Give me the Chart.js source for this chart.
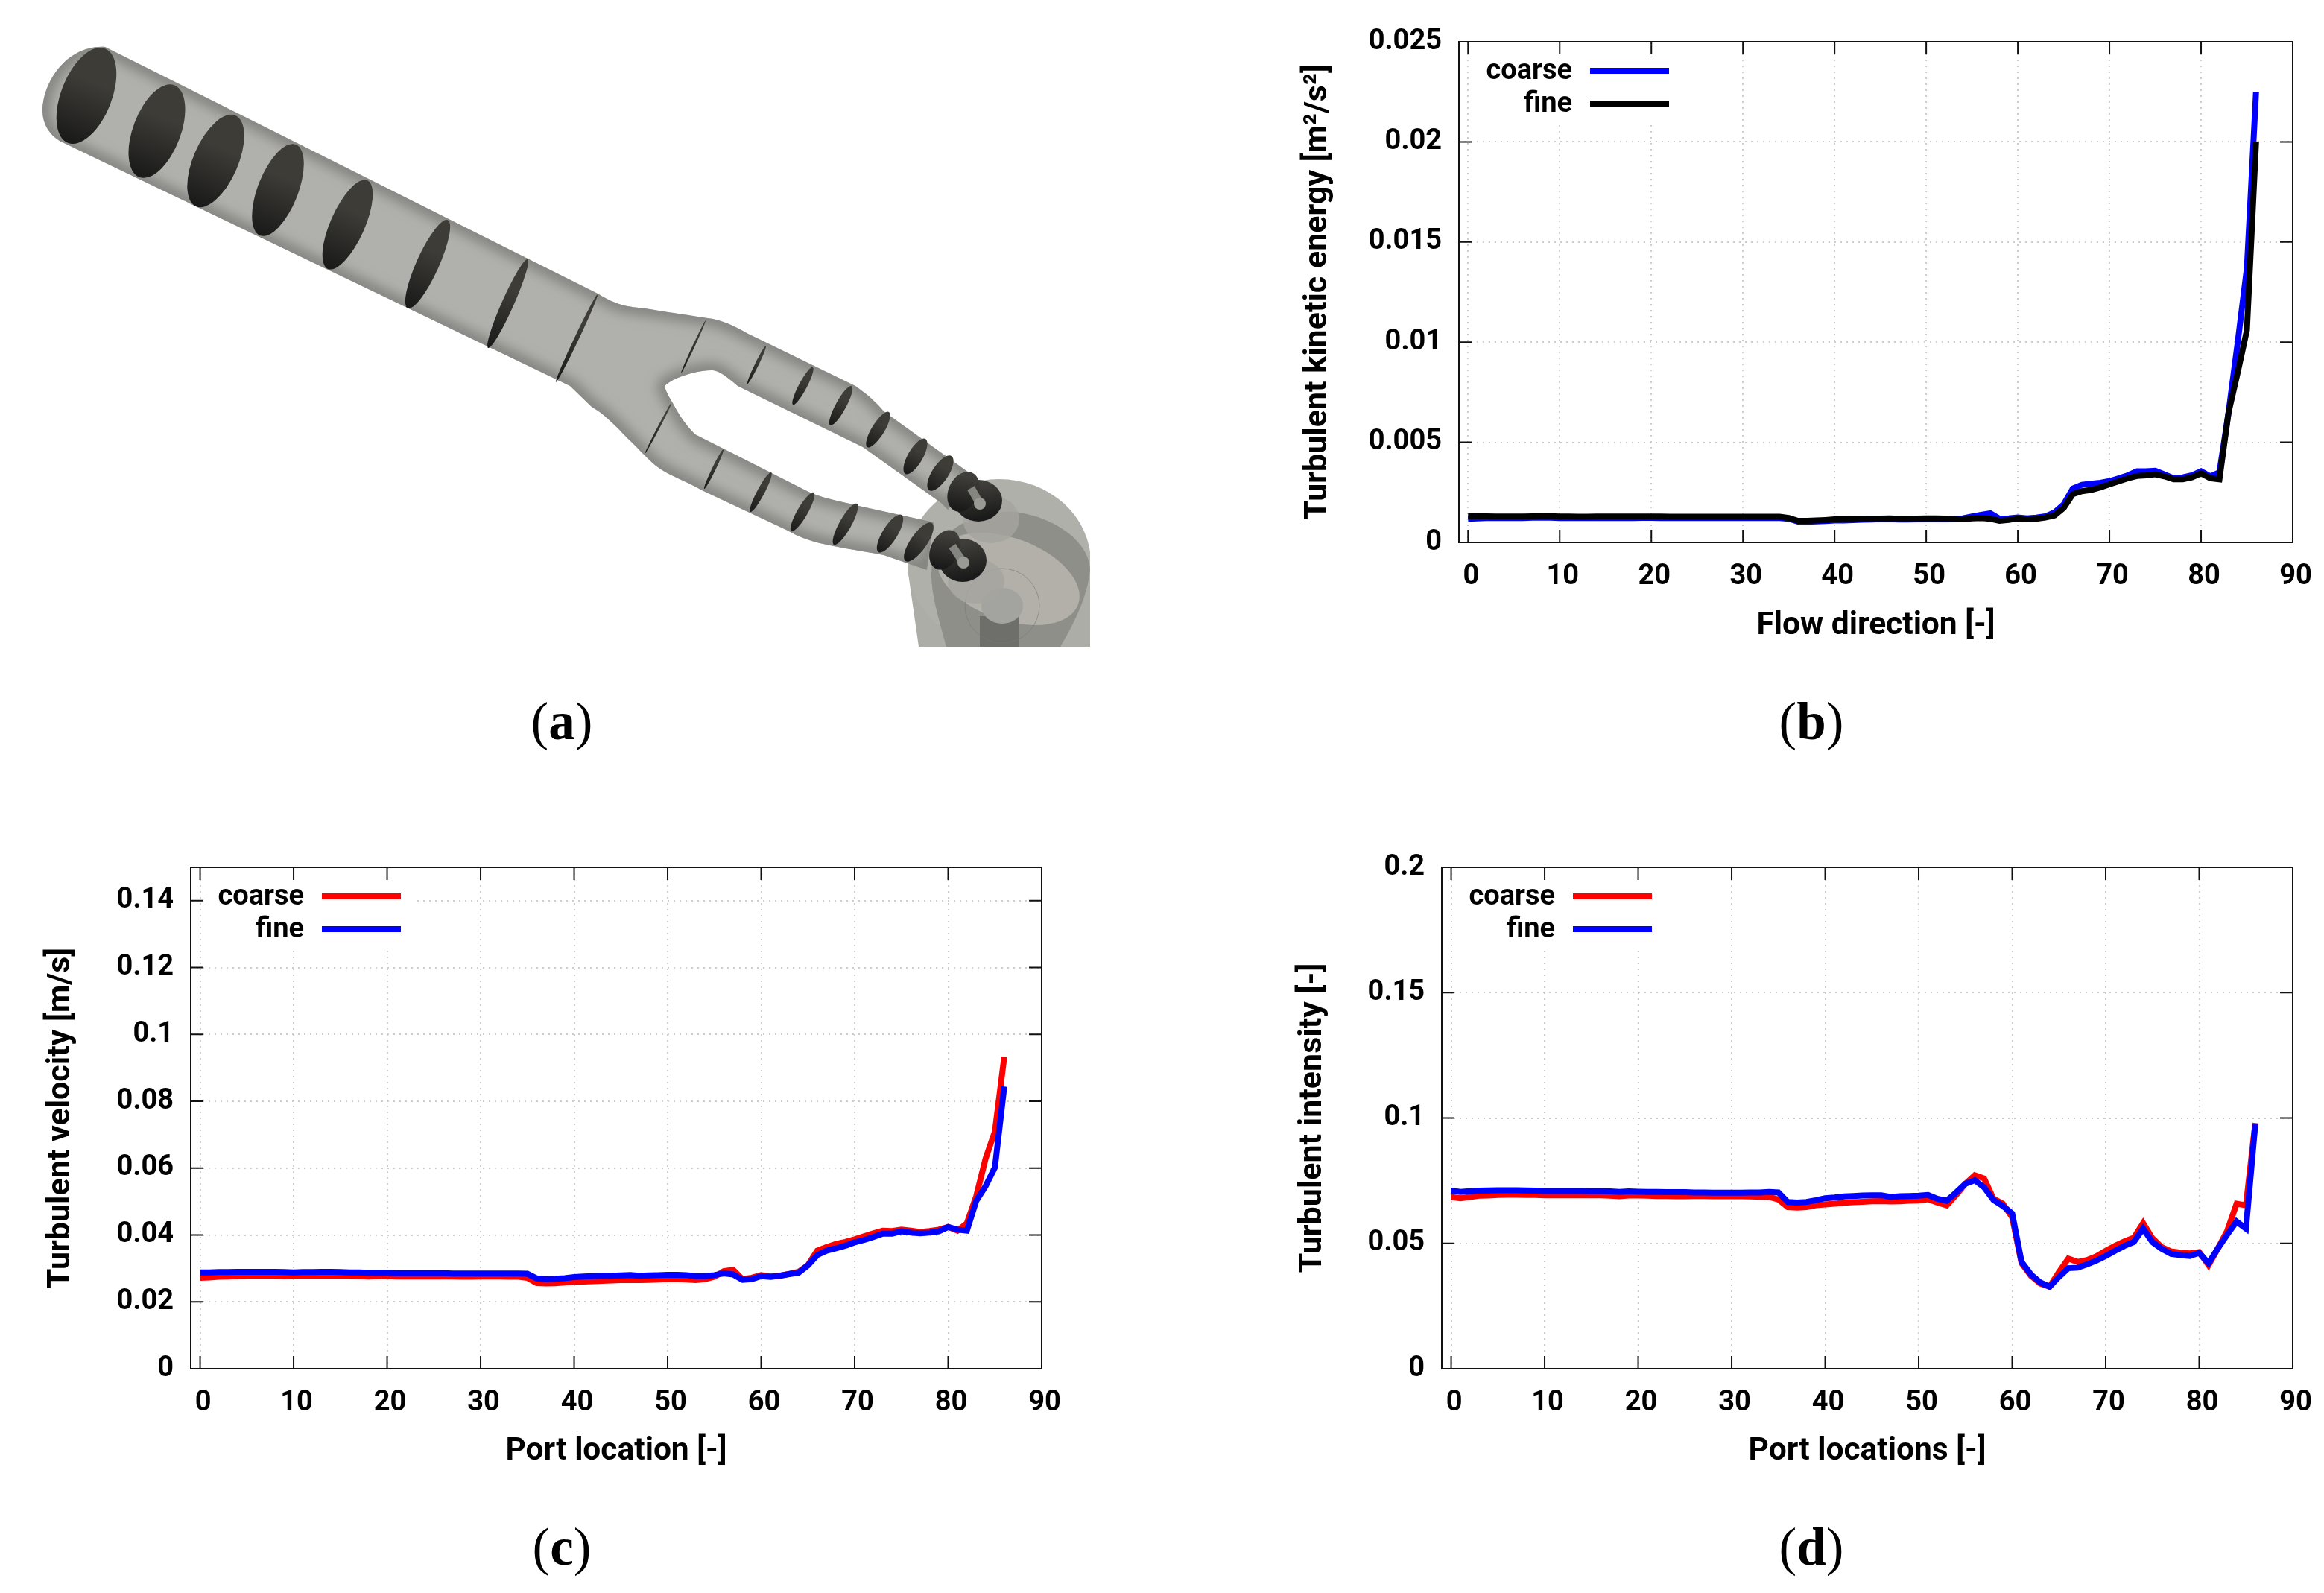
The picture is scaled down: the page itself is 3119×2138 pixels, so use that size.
<!DOCTYPE html>
<html>
<head>
<meta charset="utf-8">
<title>Turbulence along the port</title>
<script src="https://cdn.jsdelivr.net/npm/chart.js@4/dist/chart.umd.min.js"></script>
<style>
  html, body { margin: 0; background: #fff; }
  #page { position: relative; width: 3119px; height: 2138px; overflow: hidden; background: #fff; }
  canvas { position: absolute; }
  #geometry { position: absolute; left: 0; top: 0; }
  .caption {
    position: absolute; width: 200px; margin-left: -100px; height: 80px; line-height: 80px;
    text-align: center; font: 71px/80px "Liberation Serif", serif; color: #000;
  }
</style>
</head>
<body>
<div id="page">
  <!-- (a) port geometry, not data: a sketch of the render -->
  <svg id="geometry" width="1500" height="900" viewBox="0 0 1500 900">
    <defs>
      <clipPath id="headClip"><rect x="1100" y="600" width="363" height="268"/></clipPath>
      <clipPath id="bodyClip"><path d="M141,63 L804,395 C830,412 850,412 866,414 C890,418 930,424 957,428 C975,432 990,440 1004,448 L1148,518 C1165,530 1176,540 1186,552 L1311,642 L1272,684 L1263,675 L1158,600 L990,518 C975,505 965,498 957,497 C940,496 905,505 892,518 C895,530 900,535 904,543 C912,558 920,570 933,583 L1081,658 C1100,668 1125,672 1148,678 L1253,701 L1244,765 L1186,745 C1150,738 1125,735 1100,729 C1085,725 1070,720 1057,712 L942,658 C920,645 900,640 880,625 C865,612 855,600 842,588 C825,570 810,555 794,546 L765,518 L86,192 C72,186 58,172 57,150 C57,110 90,60 141,63 Z"/></clipPath>
      <linearGradient id="sliceShade" x1="0" y1="0" x2="0" y2="1">
        <stop offset="0.35" stop-color="#3d3c37"/><stop offset="1" stop-color="#191919"/>
      </linearGradient>
      <linearGradient id="valveShade" x1="0" y1="0" x2="0.2" y2="1">
        <stop offset="0.2" stop-color="#3f3e3a"/><stop offset="1" stop-color="#1a1a1a"/>
      </linearGradient>
      <filter id="soft"><feGaussianBlur stdDeviation="8"/></filter>
    </defs>

    <g clip-path="url(#headClip)">
      <path d="M1219,770 L1233,868 L1463,868 L1463,755 L1341,755 Z" fill="#adada7"/>
      <ellipse cx="1341" cy="755" rx="123" ry="112" fill="#b0b0aa"/>
      <path d="M1250,770 C1250,700 1330,685 1363,687 C1420,695 1463,730 1463,765 C1460,800 1440,840 1423,868 L1270,868 C1260,830 1250,800 1250,770 Z" fill="#8f8f8a"/>
      <ellipse cx="1353" cy="777" rx="100" ry="55" transform="rotate(20 1353 777)" fill="#b2b0a8"/>
      <rect x="1315" y="827" width="53" height="41" fill="#6e6e6a"/>
      <ellipse cx="1345" cy="813" rx="28" ry="24" fill="#a3a4a0"/>
      <circle cx="1345" cy="813" r="50" fill="none" stroke="#777" stroke-width="1" opacity="0.6"/>
      <ellipse cx="1330" cy="697" rx="38" ry="32" fill="#a5a49d" opacity="0.8"/>
      <ellipse cx="1310" cy="780" rx="38" ry="30" fill="#a5a49d" opacity="0.8"/>
    </g>

    <path d="M141,63 L804,395 C830,412 850,412 866,414 C890,418 930,424 957,428 C975,432 990,440 1004,448 L1148,518 C1165,530 1176,540 1186,552 L1311,642 L1272,684 L1263,675 L1158,600 L990,518 C975,505 965,498 957,497 C940,496 905,505 892,518 C895,530 900,535 904,543 C912,558 920,570 933,583 L1081,658 C1100,668 1125,672 1148,678 L1253,701 L1244,765 L1186,745 C1150,738 1125,735 1100,729 C1085,725 1070,720 1057,712 L942,658 C920,645 900,640 880,625 C865,612 855,600 842,588 C825,570 810,555 794,546 L765,518 L86,192 C72,186 58,172 57,150 C57,110 90,60 141,63 Z" fill="#b0b0ac"/>
    <g clip-path="url(#bodyClip)">
      <path d="M141,63 L804,395 C830,412 850,412 866,414 C890,418 930,424 957,428 C975,432 990,440 1004,448 L1148,518 C1165,530 1176,540 1186,552 L1311,642 L1272,684 L1263,675 L1158,600 L990,518 C975,505 965,498 957,497 C940,496 905,505 892,518 C895,530 900,535 904,543 C912,558 920,570 933,583 L1081,658 C1100,668 1125,672 1148,678 L1253,701 L1244,765 L1186,745 C1150,738 1125,735 1100,729 C1085,725 1070,720 1057,712 L942,658 C920,645 900,640 880,625 C865,612 855,600 842,588 C825,570 810,555 794,546 L765,518 L86,192 C72,186 58,172 57,150 C57,110 90,60 141,63 Z" fill="none" stroke="#82827f" stroke-width="20" filter="url(#soft)"/>
    </g>

    <g fill="url(#sliceShade)">
      <ellipse cx="116" cy="128.5" rx="34" ry="68" transform="rotate(21.5 116 128.5)"/>
      <ellipse cx="210.5" cy="176" rx="32" ry="66" transform="rotate(20.8 210.5 176)"/>
      <ellipse cx="289.5" cy="216" rx="30" ry="66.5" transform="rotate(23.5 289.5 216)"/>
      <ellipse cx="373" cy="255" rx="27" ry="65.6" transform="rotate(21.5 373 255)"/>
      <ellipse cx="466.5" cy="301.5" rx="23" ry="65" transform="rotate(24 466.5 301.5)"/>
      <ellipse cx="574" cy="354.5" rx="15" ry="65" transform="rotate(24.4 574 354.5)"/>
      <ellipse cx="681.5" cy="407.5" rx="8" ry="65" transform="rotate(24 681.5 407.5)"/>
      <ellipse cx="774" cy="454" rx="3" ry="65" transform="rotate(25.4 774 454)"/>
      <ellipse cx="930.5" cy="465.5" rx="1.5" ry="39" transform="rotate(25 930.5 465.5)"/>
      <ellipse cx="883.5" cy="574.5" rx="1.5" ry="38" transform="rotate(27.6 883.5 574.5)"/>
      <ellipse cx="1015.5" cy="489.5" rx="2.5" ry="28.4" transform="rotate(26 1015.5 489.5)"/>
      <ellipse cx="1077.5" cy="518" rx="5.5" ry="28.4" transform="rotate(28 1077.5 518)"/>
      <ellipse cx="1128.5" cy="544.5" rx="7" ry="30" transform="rotate(28.7 1128.5 544.5)"/>
      <ellipse cx="1178.5" cy="576.5" rx="8.5" ry="27.6" transform="rotate(31.7 1178.5 576.5)"/>
      <ellipse cx="1228.5" cy="612.5" rx="10" ry="27" transform="rotate(30 1228.5 612.5)"/>
      <ellipse cx="1262" cy="635" rx="11" ry="27.5" transform="rotate(33 1262 635)"/>
      <ellipse cx="958" cy="629.5" rx="2.5" ry="29.5" transform="rotate(26 958 629.5)"/>
      <ellipse cx="1021" cy="660.5" rx="5" ry="30" transform="rotate(28 1021 660.5)"/>
      <ellipse cx="1077" cy="687" rx="7" ry="30" transform="rotate(30 1077 687)"/>
      <ellipse cx="1134.5" cy="703.5" rx="8" ry="31.5" transform="rotate(29.4 1134.5 703.5)"/>
      <ellipse cx="1194.5" cy="716" rx="10" ry="29.4" transform="rotate(32 1194.5 716)"/>
      <ellipse cx="1233" cy="727.5" rx="11" ry="31" transform="rotate(35 1233 727.5)"/>
    </g>

    <g fill="url(#valveShade)">
      <ellipse cx="1313" cy="672" rx="32" ry="28"/>
      <ellipse cx="1293" cy="660" rx="20" ry="28" transform="rotate(25 1293 660)"/>
      <ellipse cx="1292" cy="752" rx="32" ry="29"/>
      <ellipse cx="1268" cy="738" rx="19" ry="28" transform="rotate(25 1268 738)"/>
    </g>
    <path d="M1303,655 L1315,676" stroke="#85857f" stroke-width="11"/>
    <path d="M1278,733 L1293,755" stroke="#85857f" stroke-width="11"/>
    <circle cx="1315" cy="676" r="8" fill="#9a9a95"/>
    <circle cx="1293" cy="755" r="8" fill="#9a9a95"/>
  </svg>

  <canvas id="chartKinetic" width="1399" height="880" style="left:1720px;top:0"></canvas>
  <canvas id="chartVelocity" width="1440" height="880" style="left:0;top:1110px"></canvas>
  <canvas id="chartIntensity" width="1399" height="880" style="left:1720px;top:1110px"></canvas>

  <div class="caption" style="left:754px;top:928px">(<b>a</b>)</div>
  <div class="caption" style="left:2431px;top:928px">(<b>b</b>)</div>
  <div class="caption" style="left:754px;top:2036px">(<b>c</b>)</div>
  <div class="caption" style="left:2431px;top:2036px">(<b>d</b>)</div>
</div>

<script>
// port number along the flow path
const portIndex = [
  0, 1, 2, 3, 4, 5, 6, 7, 8, 9, 10, 11, 12, 13, 14, 15, 16, 17, 18, 19,
  20, 21, 22, 23, 24, 25, 26, 27, 28, 29, 30, 31, 32, 33, 34, 35, 36, 37, 38, 39,
  40, 41, 42, 43, 44, 45, 46, 47, 48, 49, 50, 51, 52, 53, 54, 55, 56, 57, 58, 59,
  60, 61, 62, 63, 64, 65, 66, 67, 68, 69, 70, 71, 72, 73, 74, 75, 76, 77, 78, 79,
  80, 81, 82, 83, 84, 85, 86,
];

// (b) turbulent kinetic energy
const kineticCoarse = [
  .00118, .00120, .00122, .00122, .00122, .00122, .00122, .00124, .00125, .00124,
  .00122, .00122, .00122, .00122, .00122, .00122, .00123, .00122, .00122, .00123,
  .00123, .00122, .00122, .00122, .00122, .00122, .00122, .00122, .00122, .00122,
  .00122, .00122, .00122, .00122, .00122, .00118, .00104, .00103, .00105, .00107,
  .00110, .00110, .00112, .00113, .00114, .00116, .00116, .00114, .00114, .00115,
  .00116, .00116, .00115, .00115, .00120, .00130, .00138, .00145, .00118, .00120,
  .00125, .00120, .00124, .00130, .00150, .00190, .00269, .00288, .00293, .00298,
  .00306, .00320, .00335, .00355, .00355, .00358, .00340, .00320, .00325, .00335,
  .00355, .00330, .00350, .00650, .01000, .01370, .02250,
];
const kineticFine = [
  .00130, .00130, .00130, .00129, .00129, .00129, .00129, .00130, .00131, .00131,
  .00129, .00129, .00128, .00128, .00129, .00129, .00129, .00129, .00129, .00129,
  .00129, .00129, .00128, .00128, .00128, .00128, .00128, .00128, .00128, .00128,
  .00128, .00128, .00128, .00128, .00128, .00122, .00108, .00108, .00110, .00112,
  .00115, .00116, .00117, .00118, .00119, .00119, .00120, .00118, .00118, .00119,
  .00120, .00120, .00119, .00116, .00116, .00120, .00122, .00118, .00108, .00112,
  .00120, .00115, .00118, .00124, .00135, .00172, .00241, .00256, .00262, .00275,
  .00290, .00305, .00320, .00332, .00335, .00340, .00330, .00315, .00315, .00325,
  .00345, .00320, .00315, .00650, .00850, .01060, .02000,
];

// (c) turbulent velocity
const velocityCoarse = [
  .0272, .0273, .0275, .0276, .0277, .0278, .0278, .0278, .0278, .0277,
  .0278, .0278, .0278, .0278, .0278, .0278, .0278, .0277, .0276, .0277,
  .0277, .0276, .0276, .0276, .0276, .0276, .0276, .0276, .0275, .0275,
  .0276, .0276, .0276, .0275, .0275, .0272, .0256, .0255, .0256, .0258,
  .0260, .0261, .0262, .0263, .0264, .0265, .0265, .0265, .0266, .0267,
  .0268, .0268, .0267, .0265, .0268, .0275, .0292, .0296, .0268, .0272,
  .0280, .0276, .0278, .0284, .0290, .0310, .0353, .0364, .0373, .0379,
  .0387, .0396, .0405, .0413, .0412, .0416, .0413, .0409, .0412, .0416,
  .0424, .0413, .0435, .0516, .0628, .0710, .0933,
];
const velocityFine = [
  .0288, .0288, .0289, .0289, .0290, .0290, .0290, .0290, .0290, .0289,
  .0288, .0289, .0289, .0290, .0290, .0289, .0288, .0288, .0287, .0287,
  .0287, .0286, .0286, .0286, .0286, .0286, .0286, .0285, .0285, .0285,
  .0285, .0285, .0285, .0285, .0285, .0284, .0270, .0268, .0269, .0271,
  .0274, .0276, .0277, .0278, .0278, .0279, .0280, .0278, .0279, .0280,
  .0281, .0281, .0280, .0277, .0277, .0280, .0285, .0282, .0266, .0268,
  .0277, .0275, .0278, .0283, .0287, .0309, .0340, .0353, .0360, .0368,
  .0378, .0385, .0394, .0404, .0404, .0411, .0407, .0405, .0407, .0411,
  .0424, .0416, .0413, .0502, .0546, .0602, .0844,
];

// (d) turbulent intensity
const intensityCoarse = [
  .0685, .0680, .0685, .0690, .0691, .0693, .0694, .0694, .0693, .0693,
  .0692, .0692, .0692, .0692, .0692, .0692, .0692, .0690, .0688, .0691,
  .0691, .0690, .0689, .0689, .0688, .0688, .0689, .0689, .0688, .0688,
  .0688, .0688, .0687, .0686, .0685, .0675, .0645, .0643, .0645, .0652,
  .0655, .0658, .0662, .0664, .0666, .0668, .0669, .0667, .0668, .0670,
  .0671, .0676, .0663, .0652, .0693, .0738, .0772, .0759, .0678, .0658,
  .0604, .0421, .0371, .0340, .0327, .0386, .0439, .0426, .0433, .0448,
  .0470, .0490, .0508, .0522, .0581, .0520, .0485, .0468, .0463, .0460,
  .0465, .0413, .0480, .0550, .0658, .0652, .0980,
];
const intensityFine = [
  .0710, .0705, .0708, .0710, .0711, .0712, .0712, .0712, .0711, .0710,
  .0709, .0709, .0709, .0709, .0709, .0708, .0708, .0707, .0705, .0707,
  .0706, .0705, .0705, .0704, .0704, .0704, .0703, .0703, .0702, .0702,
  .0702, .0702, .0703, .0703, .0705, .0703, .0665, .0663, .0665, .0672,
  .0680, .0683, .0687, .0689, .0691, .0692, .0692, .0685, .0688, .0689,
  .0690, .0693, .0678, .0670, .0703, .0738, .0752, .0723, .0673, .0649,
  .0619, .0426, .0376, .0344, .0327, .0366, .0401, .0403, .0416, .0431,
  .0450, .0470, .0490, .0505, .0559, .0505, .0478, .0458, .0453, .0450,
  .0462, .0421, .0480, .0535, .0587, .0559, .0977,
];

// tick labels
const xTicks = [0, 10, 20, 30, 40, 50, 60, 70, 80, 90];
const kineticTicks = [0, 0.005, 0.01, 0.015, 0.02, 0.025];
const velocityTicks = [0, 0.02, 0.04, 0.06, 0.08, 0.1, 0.12, 0.14];
const intensityTicks = [0, 0.05, 0.1, 0.15, 0.2];

const seriesNames = ["coarse", "fine"];
const BLUE = "#0000ff", RED = "#ff0000", BLACK = "#000000";
const FONT = "Roboto, sans-serif";

// gnuplot style: box, ticks pointing in, legend text left of its sample line
const gnuplotFrame = {
  id: "gnuplotFrame",
  beforeDatasetsDraw(chart) {
    const ctx = chart.ctx, a = chart.chartArea;
    // the key has a white background that cuts the grid
    ctx.save();
    ctx.fillStyle = "#fff";
    ctx.fillRect(a.left + 16, a.top + 2, 284, 107);
    ctx.restore();
  },
  afterDatasetsDraw(chart) {
    const ctx = chart.ctx, a = chart.chartArea;
    const len = 17;
    ctx.save();
    ctx.strokeStyle = "#111";
    ctx.lineWidth = 2;
    ctx.beginPath();
    chart.scales.x.ticks.forEach(t => {
      const x = chart.scales.x.getPixelForValue(t.value);
      ctx.moveTo(x, a.bottom); ctx.lineTo(x, a.bottom - len);
      ctx.moveTo(x, a.top); ctx.lineTo(x, a.top + len);
    });
    chart.scales.y.ticks.forEach(t => {
      const y = chart.scales.y.getPixelForValue(t.value);
      ctx.moveTo(a.left, y); ctx.lineTo(a.left + len, y);
      ctx.moveTo(a.right, y); ctx.lineTo(a.right - len, y);
    });
    ctx.stroke();
    ctx.strokeRect(a.left, a.top, a.right - a.left, a.bottom - a.top);

    ctx.font = "bold 38px " + FONT;
    ctx.textAlign = "right";
    ctx.textBaseline = "middle";
    chart.data.datasets.forEach((ds, i) => {
      const y = a.top + 39 + i * 44;
      ctx.fillStyle = "#000";
      ctx.fillText(ds.label, a.left + 152, y + 1);
      ctx.strokeStyle = ds.borderColor;
      ctx.lineWidth = 8;
      ctx.beginPath();
      ctx.moveTo(a.left + 176, y);
      ctx.lineTo(a.left + 282, y);
      ctx.stroke();
    });
    ctx.restore();
  },
};

function makeChart(id, opts) {
  const points = arr => arr.map((y, i) => ({ x: portIndex[i], y: y }));
  const gridStyle = {
    color: "#cdcdcd", lineWidth: 2, drawTicks: false, tickLength: 0,
  };
  const borderStyle = { display: false, dash: [2, 6] };
  return new Chart(document.getElementById(id), {
    type: "line",
    data: {
      datasets: [
        { label: seriesNames[0], data: points(opts.coarse), borderColor: opts.colors[0], order: 2 },
        { label: seriesNames[1], data: points(opts.fine), borderColor: opts.colors[1], order: 1 },
      ],
    },
    plugins: [gnuplotFrame],
    options: {
      responsive: false,
      animation: false,
      devicePixelRatio: 1,
      layout: { padding: { top: opts.top, right: opts.right, left: 0, bottom: 0 } },
      elements: {
        point: { radius: 0 },
        line: { borderWidth: 8, tension: 0, borderCapStyle: "butt", borderJoinStyle: "miter", fill: false },
      },
      plugins: { legend: { display: false }, tooltip: { enabled: false } },
      scales: {
        x: {
          type: "linear", min: -1, max: 90,
          afterBuildTicks: s => { s.ticks = xTicks.map(v => ({ value: v })); },
          // tick padding would otherwise eat into the right margin
          afterFit: s => { s.height = opts.bottomH; s.paddingLeft = 0; s.paddingRight = 0; },
          grid: gridStyle, border: borderStyle,
          ticks: {
            font: { family: FONT, weight: "bold", size: 38 }, color: "#000",
            padding: 24, labelOffset: 4, maxRotation: 0, autoSkip: false,
            callback: v => String(v),
          },
          title: {
            display: true, text: opts.xTitle, color: "#000",
            font: { family: FONT, weight: "bold", size: 42.5 },
            padding: { top: 0, bottom: opts.xTitleGap },
          },
        },
        y: {
          min: 0, max: opts.yMax,
          afterBuildTicks: s => { s.ticks = opts.yTicks.map(v => ({ value: v })); },
          afterFit: s => { s.width = opts.left; },
          grid: gridStyle, border: borderStyle,
          ticks: {
            font: { family: FONT, weight: "bold", size: 38 }, color: "#000",
            padding: 23, autoSkip: false,
            callback: v => String(v),
          },
          title: {
            display: true, text: opts.yTitle, color: "#000",
            font: { family: FONT, weight: "bold", size: 43 },
            padding: { top: opts.yTitleGap, bottom: 0 },
          },
        },
      },
    },
  });
}

makeChart("chartKinetic", {
  coarse: kineticCoarse, fine: kineticFine, colors: [BLUE, BLACK],
  xTitle: "Flow direction [-]", yTitle: "Turbulent kinetic energy [m²/s²]",
  yMax: 0.025, yTicks: kineticTicks,
  left: 238, top: 56, right: 42, bottomH: 152, xTitleGap: 14, yTitleGap: 23,
});
makeChart("chartVelocity", {
  coarse: velocityCoarse, fine: velocityFine, colors: [RED, BLUE],
  xTitle: "Port location [-]", yTitle: "Turbulent velocity [m/s]",
  yMax: 0.15, yTicks: velocityTicks,
  left: 256, top: 54, right: 42, bottomH: 153, xTitleGap: 16, yTitleGap: 56,
});
makeChart("chartIntensity", {
  coarse: intensityCoarse, fine: intensityFine, colors: [RED, BLUE],
  xTitle: "Port locations [-]", yTitle: "Turbulent intensity [-]",
  yMax: 0.2, yTicks: intensityTicks,
  left: 215, top: 54, right: 42, bottomH: 153, xTitleGap: 16, yTitleGap: 16,
});
</script>
</body>
</html>
